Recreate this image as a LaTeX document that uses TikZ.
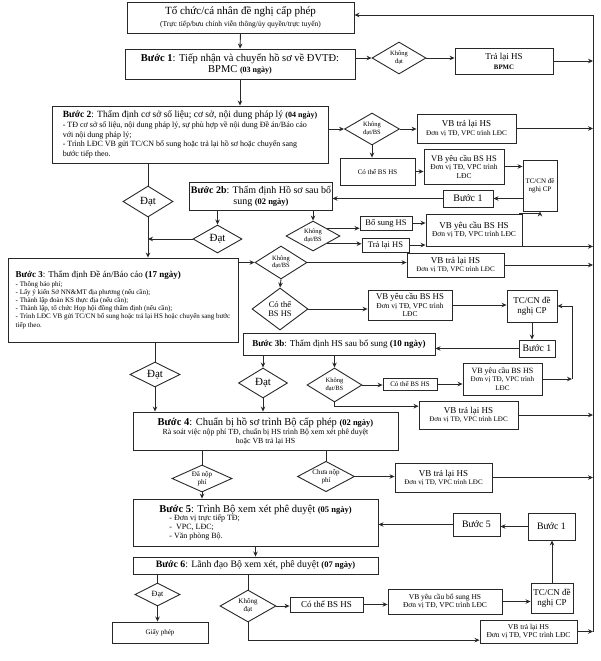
\documentclass[tikz,border=0pt]{standalone}
\usepackage{fontspec}
\setmainfont{Liberation Serif}
\usetikzlibrary{shapes.geometric, arrows.meta}
\newcommand{\fsz}[2]{\fontsize{#1}{#2}\selectfont}
\newcommand{\buoc}[1]{\textbf{Bước #1}}
\definecolor{linecolor}{RGB}{40,40,40}

\begin{document}
\begin{tikzpicture}[x=1pt, y=-1pt,
    box/.style={draw=linecolor, line width=0.9pt, fill=white, inner sep=1pt, align=center},
    dia/.style={draw=linecolor, line width=0.9pt, diamond, aspect=1.7, inner sep=0pt, align=center},
    arr/.style={-{Stealth[length=5pt,width=4.5pt]}, line width=0.9pt, linecolor},
    ln/.style={line width=0.9pt, linecolor}]
    \useasboundingbox (0,0) rectangle (601,661);
    \coordinate (ret) at (593,15);
    \coordinate (bend3) at (572,382);

    % Main steps
    \node[box, minimum width=227, minimum height=31] (top) at (240.5,17.5) {{\fsz{11}{12}Tổ chức/cá nhân đề nghị cấp phép}\\{\fsz{7.5}{9}(Trực tiếp/bưu chính viễn thông/ủy quyền/trực tuyến)}};
    \node[box, minimum width=230, minimum height=30, font=\fsz{10.5}{11.5}] (b1) at (240,64) {\buoc{1}: Tiếp nhận và chuyển hồ sơ về ĐVTĐ:\\BPMC \textbf{\fsz{8}{11.5}(03 ngày)}};
    \node[box, align=left, minimum width=276, minimum height=57, font=\fsz{8}{9.6}] (b2) at (190,134.5) {{\fsz{9.5}{11}\buoc{2}: Thẩm định cơ sở số liệu; cơ sở, nội dung pháp lý \textbf{\fsz{8}{9.6}(04 ngày)}}\\- TĐ cơ sở số liệu, nội dung pháp lý, sự phù hợp về nội dung Đề án/Báo cáo\\với nội dung pháp lý;\\- Trình LĐC VB gửi TC/CN bổ sung hoặc trả lại hồ sơ hoặc chuyển sang\\bước tiếp theo.};
    \node[box, minimum width=142, minimum height=28, font=\fsz{10}{11}] (b2b) at (261,196) {\buoc{2b}: Thẩm định Hồ sơ sau bổ\\sung \textbf{\fsz{8.5}{11}(02 ngày)}};
    \node[box, align=left, minimum width=230, minimum height=84, font=\fsz{7}{8.2}] (b3) at (123,300) {{\fsz{9}{10}\buoc{3}: Thẩm định Đề án/Báo cáo \textbf{(17 ngày)}}\\- Thông báo phí;\\- Lấy ý kiến Sở NN\&MT địa phương (nếu cần);\\- Thành lập đoàn KS thực địa (nếu cần);\\- Thành lập, tổ chức Họp hội đồng thẩm định (nếu cần);\\- Trình LĐC VB gửi TC/CN bổ sung hoặc trả lại HS hoặc chuyển sang bước\\tiếp theo.};
    \node[box, minimum width=192, minimum height=22, font=\fsz{9}{10}] (b3b) at (339,344) {\buoc{3b}: Thẩm định HS sau bổ sung \textbf{(10 ngày)}};
    \node[box, minimum width=265, minimum height=38, font=\fsz{7.8}{9}] (b4) at (265.5,431) {{\fsz{10.5}{12}\buoc{4}: Chuẩn bị hồ sơ trình Bộ cấp phép \textbf{\fsz{8.5}{12}(02 ngày)}}\\Rà soát việc nộp phí TĐ, chuẩn bị HS trình Bộ xem xét phê duyệt\\hoặc VB trả lại HS};
    \node[box, align=left, minimum width=245, minimum height=47, font=\fsz{8}{8.6}] (b5) at (255.5,522.5) {{\fsz{10.5}{12}\buoc{5}: Trình Bộ xem xét phê duyệt \textbf{\fsz{8.5}{12}(05 ngày)}}\\\hspace*{10pt}- Đơn vị trực tiếp TĐ;\\\hspace*{10pt}-\ \ VPC, LĐC;\\\hspace*{10pt}- Văn phòng Bộ.};
    \node[box, minimum width=245, minimum height=17, font=\fsz{9.8}{11}] (b6) at (255.5,565.5) {\buoc{6}: Lãnh đạo Bộ xem xét, phê duyệt \textbf{\fsz{8.5}{11}(07 ngày)}};
    \node[box, minimum width=96, minimum height=21, font=\fsz{7}{8}] (gp) at (160,632.5) {Giấy phép};

    % Step 1 branch
    \node[dia, minimum width=54, minimum height=32, font=\fsz{6.5}{7.5}] (kd1) at (399,58) {Không\\đạt};
    \node[box, minimum width=98, minimum height=26, font=\fsz{9}{10}] (tra1) at (504,61) {Trả lại HS\\{\fsz{6.8}{8}\bfseries BPMC}};

    % Step 2 branch
    \node[dia, minimum width=55, minimum height=32, font=\fsz{6.5}{7.5}] (kd2) at (372,129) {Không\\đạt/BS};
    \node[box, minimum width=99, minimum height=29, font=\fsz{7.2}{8.5}] (vbtra2) at (466.5,128.5) {{\fsz{9}{10}VB trả lại HS}\\Đơn vị TĐ, VPC trình LĐC};
    \node[box, minimum width=75, minimum height=27, font=\fsz{7}{8}] (cothe2) at (377.5,171.5) {Có thể BS HS};
    \node[box, minimum width=80, minimum height=35, font=\fsz{7.5}{8.5}] (vbyc2) at (464,166.5) {{\fsz{8.5}{9.5}VB yêu cầu BS HS}\\Đơn vị TĐ, VPC trình\\LĐC};
    \node[box, minimum width=34, minimum height=51, font=\fsz{7}{8.5}] (tccn2) at (540,185.5) {TC/CN đề\\nghị CP};
    \node[box, minimum width=50, minimum height=17, font=\fsz{10}{11}] (buoc1a) at (468,198.5) {Bước 1};
    \node[dia, minimum width=50, minimum height=31, font=\fsz{11}{12}] (dat2) at (148,201.5) {Đạt};

    % Step 2b branch
    \node[dia, minimum width=49, minimum height=28, font=\fsz{11}{12}] (dat2b) at (217.5,239) {Đạt};
    \node[dia, minimum width=54, minimum height=30, font=\fsz{6.5}{7.5}] (kd2b) at (313,236) {Không\\đạt/BS};
    \node[box, minimum width=52, minimum height=14, font=\fsz{8.5}{9.5}] (bosung) at (386,223) {Bổ sung HS};
    \node[box, minimum width=47, minimum height=14, font=\fsz{8.5}{9.5}] (tralai) at (385.5,245) {Trả lại HS};
    \node[box, minimum width=96, minimum height=32, font=\fsz{7.5}{8.5}] (vbyc2b) at (474,230) {{\fsz{9}{10}VB yêu cầu BS HS}\\Đơn vị TĐ, VPC trình LĐC};

    % Step 3 branch
    \node[dia, minimum width=52, minimum height=33, font=\fsz{6.5}{7.5}] (kd3) at (281,262.5) {Không\\đạt/BS};
    \node[box, minimum width=97, minimum height=24, font=\fsz{7}{8}] (vbtra3) at (455.5,265) {{\fsz{9}{10}VB trả lại HS}\\Đơn vị TĐ, VPC trình LĐC};
    \node[dia, minimum width=56, minimum height=42, font=\fsz{8.5}{9.5}] (cothe3) at (280,309) {Có thể\\BS HS};
    \node[box, minimum width=84, minimum height=30, font=\fsz{7.5}{8.5}] (vbyc3) at (410,305) {{\fsz{8.8}{9.8}VB yêu cầu BS HS}\\Đơn vị TĐ, VPC trình\\LĐC};
    \node[box, minimum width=50, minimum height=32, font=\fsz{9}{10.5}] (tccn3) at (532,306) {TC/CN đề\\nghị CP};
    \node[box, minimum width=36, minimum height=17, font=\fsz{9.8}{11}] (buoc1b) at (537,348.5) {Bước 1};
    \node[dia, minimum width=50, minimum height=25, font=\fsz{11}{12}] (dat3) at (155,374.5) {Đạt};

    % Step 3b branch
    \node[dia, minimum width=49, minimum height=30, font=\fsz{11}{12}] (dat3b) at (263,383) {Đạt};
    \node[dia, minimum width=55, minimum height=34, font=\fsz{6.5}{7.5}] (kd3b) at (334.5,385) {Không\\đạt/BS};
    \node[box, minimum width=54, minimum height=12, font=\fsz{7}{8}] (cothe3b) at (410,384) {Có thể BS HS};
    \node[box, minimum width=79, minimum height=32, font=\fsz{7.1}{8.2}] (vbyc3b) at (502.5,379) {{\fsz{8}{9}VB yêu cầu BS HS}\\Đơn vị TĐ, VPC trình\\LĐC};
    \node[box, minimum width=99, minimum height=28, font=\fsz{7}{8}] (vbtra3b) at (468.5,415) {{\fsz{9}{10}VB trả lại HS}\\Đơn vị TĐ, VPC trình LĐC};

    % Step 4 branch
    \node[dia, minimum width=60, minimum height=27, font=\fsz{7}{8}] (danop) at (202,478.5) {Đã nộp\\phí};
    \node[dia, minimum width=57, minimum height=29, font=\fsz{7}{8}] (chuanop) at (326,476.5) {Chưa nộp\\phí};
    \node[box, minimum width=97, minimum height=29, font=\fsz{7}{8}] (vbtra4) at (443.5,477.5) {{\fsz{9}{10}VB trả lại HS}\\Đơn vị TĐ, VPC trình LĐC};

    % Step 5 branch
    \node[box, minimum width=47, minimum height=23, font=\fsz{9.8}{11}] (buoc5s) at (476.5,524.5) {Bước 5};
    \node[box, minimum width=47, minimum height=27, font=\fsz{9.8}{11}] (buoc1c) at (551.5,526.5) {Bước 1};

    % Step 6 branch
    \node[dia, minimum width=45, minimum height=23, font=\fsz{8}{9}] (datf) at (157.5,594.5) {Đạt};
    \node[dia, minimum width=56, minimum height=32, font=\fsz{7}{8}] (kdf) at (248,606) {Không\\đạt};
    \node[box, minimum width=73, minimum height=15, font=\fsz{9}{10}] (cothef) at (326.5,604.5) {Có thể BS HS};
    \node[box, minimum width=114, minimum height=25, font=\fsz{7.5}{8.5}] (vbycf) at (445,601.5) {VB yêu cầu bổ sung HS\\Đơn vị TĐ, VPC trình LĐC};
    \node[box, minimum width=42, minimum height=30, font=\fsz{9}{10.5}] (tccnf) at (552,598) {TC/CN đề\\nghị CP};
    \node[box, minimum width=97, minimum height=23, font=\fsz{7.5}{8.5}] (vbtraf) at (528.5,631.5) {VB trả lại HS\\Đơn vị TĐ, VPC trình LĐC};

    % Main flow arrows
    \draw[arr] (top.south) -- (b1.north);
    \draw[arr] (b1.south) -- (b1.south |- b2.north);
    \draw[arr] (b1.east |- kd1.west) -- (kd1.west);
    \draw[arr] (kd1.east) -- (kd1.east -| tra1.west);

    % Step 2 arrows
    \draw[arr] (b2.east |- kd2.west) -- (kd2.west);
    \draw[arr] (kd2.east) -- (kd2.east -| vbtra2.west);
    \draw[arr] (kd2.south) -- (kd2.south |- cothe2.north);
    \draw[arr] (cothe2.east) -- (cothe2.east -| vbyc2.west);
    \draw[arr] (vbyc2.east) -- (vbyc2.east -| tccn2.west);
    \draw[arr] (tccn2.west |- buoc1a.east) -- (buoc1a.east);
    \draw[arr] (buoc1a.west) -- (buoc1a.west -| b2b.east);
    \draw[ln] (b2.south -| dat2.north) -- (dat2.north);
    \draw[arr] (dat2.south) -- (dat2.south |- b3.north);

    % Step 2b arrows
    \draw[arr] (b2b.south -| dat2b.north) -- (dat2b.north);
    \draw[arr] (dat2b.west) -- (dat2b.west -| dat2.south);
    \draw[arr] (b2b.south -| kd2b.north) -- (kd2b.north);
    \draw[arr] (kd2b.north east) -- (kd2b.north east -| bosung.west);
    \draw[arr] (kd2b.south east) -- (kd2b.south east -| tralai.west);
    \draw[arr] (bosung.east) -- (bosung.east -| vbyc2b.west);
    \draw[arr] (tralai.east) -- (tralai.east -| vbyc2b.west);
    \draw[arr] (vbyc2b.20) -| (tccn2.south);

    % Step 3 arrows
    \draw[arr] (b3.east |- kd3.west) -- (kd3.west);
    \draw[arr] (kd3.east) -- (kd3.east -| vbtra3.west);
    \draw[arr] (kd3.south) -- (cothe3.north);
    \draw[arr] (cothe3.east) -- (cothe3.east -| vbyc3.west);
    \draw[arr] (vbyc3.east) -- (vbyc3.east -| tccn3.west);
    \draw[arr] (tccn3.south) -- (tccn3.south |- buoc1b.north);
    \draw[arr] (buoc1b.west) -- (buoc1b.west -| b3b.east);
    \draw[ln] (b3.south -| dat3.north) -- (dat3.north);
    \draw[arr] (dat3.south) -- (dat3.south |- b4.north);

    % Step 3b arrows
    \draw[arr] (b3b.south -| dat3b.north) -- (dat3b.north);
    \draw[arr] (dat3b.south) -- (dat3b.south |- b4.north);
    \draw[arr] (b3b.south -| kd3b.north) -- (kd3b.north);
    \draw[arr] (kd3b.east) -- (kd3b.east -| cothe3b.west);
    \draw[arr] (cothe3b.east) -- (cothe3b.east -| vbyc3b.west);
    \draw[arr] (vbyc3b.east) -- (vbyc3b.east -| bend3);
    \draw[arr] (vbyc3b.east -| bend3) |- (tccn3.east);
    \draw[arr] (kd3b.south) |- (vbtra3b.170);

    % Step 4 arrows
    \draw[ln] (b4.south -| danop.north) -- (danop.north);
    \draw[arr] (danop.south) -- (danop.south |- b5.north);
    \draw[ln] (b4.south -| chuanop.north) -- (chuanop.north);
    \draw[arr] (chuanop.east) -- (chuanop.east -| vbtra4.west);

    % Step 5 arrows
    \draw[arr] (buoc1c.west) -- (buoc1c.west -| buoc5s.east);
    \draw[arr] (buoc5s.west) -- (buoc5s.west -| b5.east);
    \draw[arr] (b5.south) -- (b6.north);

    % Step 6 arrows
    \draw[ln] (b6.south -| datf.north) -- (datf.north);
    \draw[arr] (datf.south) -- (datf.south |- gp.north);
    \draw[ln] (b6.south -| kdf.north) -- (kdf.north);
    \draw[arr] (kdf.east) -- (kdf.east -| cothef.west);
    \draw[arr] (cothef.east) -- (cothef.east -| vbycf.west);
    \draw[arr] (vbycf.east) -- (vbycf.east -| tccnf.west);
    \draw[arr] (tccnf.north) -- (tccnf.north |- buoc1c.south);
    \draw[arr] (kdf.south) |- (vbtraf.-170);

    % Return line
    \draw[arr] (tra1.east) -- (tra1.east -| ret);
    \draw[arr] (vbtra2.east) -- (vbtra2.east -| ret);
    \draw[arr] (vbyc2b.-20) -- (vbyc2b.-20 -| ret);
    \draw[arr] (vbtra3.east) -- (vbtra3.east -| ret);
    \draw[arr] (vbtra3b.east) -- (vbtra3b.east -| ret);
    \draw[arr] (vbtra4.east) -- (vbtra4.east -| ret);
    \draw[arr] (vbtraf.east) -- (vbtraf.east -| ret);
    \draw[arr] (vbtraf.east -| ret) -- (ret) -- (ret -| top.east);
\end{tikzpicture}
\end{document}
